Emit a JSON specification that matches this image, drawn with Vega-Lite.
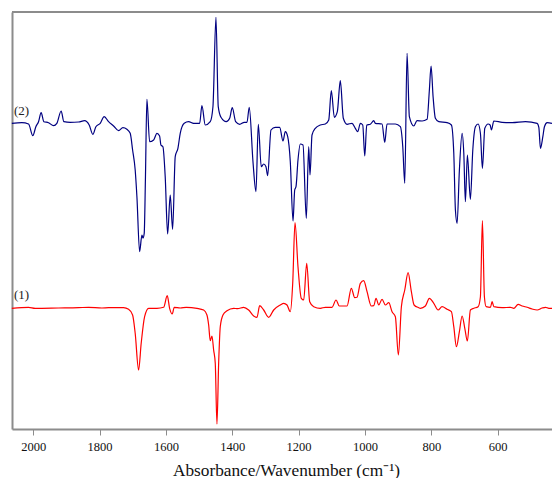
{
 "$schema": "https://vega.github.io/schema/vega-lite/v6.json",
 "width": 540, "height": 417,
 "autosize": {"type": "none"},
 "padding": {"left": 12, "top": 12, "right": 0, "bottom": 49},
 "background": "white",
 "config": {"view": {"stroke": null}},
 "datasets": {
  "spec": [
   {"s":"2","w":2064.5,"a":305.7},{"s":"2","w":2034.3,"a":306.3},{"s":"2","w":2014.1,"a":305},{"s":"2","w":2001.2,"a":293.3},{"s":"2","w":1992.1,"a":302.3},{"s":"2","w":1984,"a":307.3},{"s":"2","w":1976.1,"a":316.3},{"s":"2","w":1968,"a":307.3},{"s":"2","w":1953.8,"a":306.3},{"s":"2","w":1938.7,"a":303.3},{"s":"2","w":1928.8,"a":305.7},{"s":"2","w":1915.8,"a":318},{"s":"2","w":1907.6,"a":307.3},{"s":"2","w":1888.6,"a":306.7},{"s":"2","w":1863.3,"a":307},{"s":"2","w":1845.2,"a":308.3},{"s":"2","w":1831.3,"a":304},{"s":"2","w":1820.2,"a":294.7},{"s":"2","w":1811.1,"a":302.3},{"s":"2","w":1798.1,"a":305.7},{"s":"2","w":1786.1,"a":312.3},{"s":"2","w":1772.8,"a":307.3},{"s":"2","w":1757.7,"a":303},{"s":"2","w":1742.6,"a":298.3},{"s":"2","w":1729.7,"a":301.3},{"s":"2","w":1717.6,"a":299.7},{"s":"2","w":1707.6,"a":295.7},{"s":"2","w":1700.4,"a":279},{"s":"2","w":1692.6,"a":259},{"s":"2","w":1687.4,"a":232.3},{"s":"2","w":1679.3,"a":177.3},{"s":"2","w":1672.3,"a":194},{"s":"2","w":1669.3,"a":191},{"s":"2","w":1665.4,"a":195.7},{"s":"2","w":1661.8,"a":249},{"s":"2","w":1657.3,"a":329.7},{"s":"2","w":1649.1,"a":287.3},{"s":"2","w":1637,"a":289},{"s":"2","w":1627.1,"a":295.7},{"s":"2","w":1619,"a":293},{"s":"2","w":1615,"a":284},{"s":"2","w":1609,"a":282.3},{"s":"2","w":1602.1,"a":252.3},{"s":"2","w":1594.8,"a":195},{"s":"2","w":1587,"a":234},{"s":"2","w":1579.7,"a":199.7},{"s":"2","w":1571.9,"a":272.3},{"s":"2","w":1563.8,"a":280.7},{"s":"2","w":1556.8,"a":295.7},{"s":"2","w":1544.7,"a":305.7},{"s":"2","w":1531.5,"a":307.3},{"s":"2","w":1516.4,"a":305.7},{"s":"2","w":1498.3,"a":305.7},{"s":"2","w":1491.4,"a":323.3},{"s":"2","w":1481.4,"a":304},{"s":"2","w":1466.3,"a":307.3},{"s":"2","w":1458.2,"a":322.3},{"s":"2","w":1449.1,"a":411.7},{"s":"2","w":1442.2,"a":322.3},{"s":"2","w":1434,"a":311.7},{"s":"2","w":1418,"a":307.3},{"s":"2","w":1407.8,"a":310.7},{"s":"2","w":1399.9,"a":321.3},{"s":"2","w":1389.7,"a":307.3},{"s":"2","w":1377.6,"a":304.7},{"s":"2","w":1363.8,"a":306.7},{"s":"2","w":1355.6,"a":306.7},{"s":"2","w":1348.7,"a":321.7},{"s":"2","w":1337.5,"a":267.3},{"s":"2","w":1328.5,"a":237.3},{"s":"2","w":1321.5,"a":304.7},{"s":"2","w":1312.5,"a":262.3},{"s":"2","w":1305.2,"a":265},{"s":"2","w":1298.3,"a":262.3},{"s":"2","w":1293.2,"a":253.3},{"s":"2","w":1283.2,"a":299},{"s":"2","w":1270.2,"a":301.7},{"s":"2","w":1257,"a":301.7},{"s":"2","w":1247,"a":288},{"s":"2","w":1240.1,"a":297.3},{"s":"2","w":1232.8,"a":292.3},{"s":"2","w":1225,"a":267.3},{"s":"2","w":1216.8,"a":208},{"s":"2","w":1211.7,"a":239},{"s":"2","w":1207.8,"a":242.3},{"s":"2","w":1201.8,"a":269},{"s":"2","w":1194.8,"a":285},{"s":"2","w":1186.7,"a":284},{"s":"2","w":1176.7,"a":210.7},{"s":"2","w":1169.5,"a":282.3},{"s":"2","w":1165.6,"a":254},{"s":"2","w":1159.5,"a":294},{"s":"2","w":1149.6,"a":300.7},{"s":"2","w":1134.5,"a":304},{"s":"2","w":1119.4,"a":305},{"s":"2","w":1109.1,"a":309},{"s":"2","w":1101.3,"a":338.3},{"s":"2","w":1092.2,"a":311.7},{"s":"2","w":1083.2,"a":317.3},{"s":"2","w":1074.2,"a":348.3},{"s":"2","w":1065.1,"a":310.7},{"s":"2","w":1053.9,"a":304.7},{"s":"2","w":1038.9,"a":305.7},{"s":"2","w":1028.9,"a":300.7},{"s":"2","w":1021.7,"a":297.3},{"s":"2","w":1013.8,"a":305.7},{"s":"2","w":1006.6,"a":304},{"s":"2","w":1000.5,"a":273},{"s":"2","w":994.5,"a":304},{"s":"2","w":983.7,"a":304.7},{"s":"2","w":973.4,"a":308.3},{"s":"2","w":968.6,"a":305.7},{"s":"2","w":948.4,"a":305},{"s":"2","w":940.2,"a":286.7},{"s":"2","w":933.3,"a":305},{"s":"2","w":908.3,"a":305},{"s":"2","w":893.2,"a":302.3},{"s":"2","w":885.9,"a":282.3},{"s":"2","w":879.9,"a":245.7},{"s":"2","w":873,"a":375.7},{"s":"2","w":866,"a":312.3},{"s":"2","w":852.7,"a":303},{"s":"2","w":842.8,"a":308.3},{"s":"2","w":827.7,"a":308},{"s":"2","w":812.6,"a":309.7},{"s":"2","w":805.7,"a":339},{"s":"2","w":800.6,"a":363},{"s":"2","w":794.5,"a":332.3},{"s":"2","w":787.6,"a":310.7},{"s":"2","w":777.3,"a":307.3},{"s":"2","w":752.3,"a":306.3},{"s":"2","w":739.3,"a":304},{"s":"2","w":732.1,"a":275.7},{"s":"2","w":727.2,"a":219},{"s":"2","w":722.1,"a":205.7},{"s":"2","w":715.2,"a":259},{"s":"2","w":707,"a":295.7},{"s":"2","w":701.9,"a":275.7},{"s":"2","w":697.1,"a":227.3},{"s":"2","w":691.1,"a":274},{"s":"2","w":682,"a":229.7},{"s":"2","w":674.8,"a":279},{"s":"2","w":666.9,"a":302.3},{"s":"2","w":658.8,"a":305},{"s":"2","w":651.8,"a":295.7},{"s":"2","w":645.8,"a":260.7},{"s":"2","w":638.6,"a":300.7},{"s":"2","w":628.6,"a":305},{"s":"2","w":622.6,"a":304},{"s":"2","w":618.6,"a":299},{"s":"2","w":611.4,"a":308},{"s":"2","w":586.4,"a":306.7},{"s":"2","w":556.2,"a":306.3},{"s":"2","w":516.1,"a":307.3},{"s":"2","w":480.8,"a":305.7},{"s":"2","w":475.7,"a":301.7},{"s":"2","w":470.8,"a":280.7},{"s":"2","w":463.6,"a":292.3},{"s":"2","w":458.8,"a":302.3},{"s":"2","w":450.6,"a":306.3},{"s":"2","w":436,"a":305.7},
   {"s":"1","w":2064.5,"a":120.7},{"s":"1","w":2014.1,"a":121.7},{"s":"1","w":1994.2,"a":120.7},{"s":"1","w":1923.6,"a":121},{"s":"1","w":1863.3,"a":121.3},{"s":"1","w":1833.1,"a":121.7},{"s":"1","w":1793,"a":121},{"s":"1","w":1772.8,"a":121.3},{"s":"1","w":1727.6,"a":121.3},{"s":"1","w":1712.5,"a":119.7},{"s":"1","w":1700.4,"a":114},{"s":"1","w":1692.6,"a":95.7},{"s":"1","w":1682.3,"a":59},{"s":"1","w":1674.5,"a":85.7},{"s":"1","w":1664.2,"a":112.3},{"s":"1","w":1652.1,"a":120.7},{"s":"1","w":1647.3,"a":120.7},{"s":"1","w":1627.1,"a":120.7},{"s":"1","w":1606.9,"a":121.7},{"s":"1","w":1596,"a":133.3},{"s":"1","w":1588.8,"a":120.7},{"s":"1","w":1580.9,"a":115},{"s":"1","w":1574.9,"a":121.7},{"s":"1","w":1556.8,"a":121},{"s":"1","w":1538.7,"a":121.7},{"s":"1","w":1506.4,"a":120.7},{"s":"1","w":1486.2,"a":119},{"s":"1","w":1476.3,"a":114},{"s":"1","w":1471.1,"a":104},{"s":"1","w":1466.3,"a":88.3},{"s":"1","w":1461.2,"a":93},{"s":"1","w":1456.1,"a":79},{"s":"1","w":1451.2,"a":65.7},{"s":"1","w":1446.1,"a":5},{"s":"1","w":1441,"a":65.7},{"s":"1","w":1436.1,"a":102.3},{"s":"1","w":1428,"a":114},{"s":"1","w":1415.9,"a":118.3},{"s":"1","w":1395.7,"a":120.7},{"s":"1","w":1383.7,"a":120.3},{"s":"1","w":1365.6,"a":121.7},{"s":"1","w":1350.5,"a":119},{"s":"1","w":1335.4,"a":113},{"s":"1","w":1325.4,"a":111.7},{"s":"1","w":1317.3,"a":123.3},{"s":"1","w":1305.2,"a":119},{"s":"1","w":1290.1,"a":111.7},{"s":"1","w":1275.1,"a":119},{"s":"1","w":1255.2,"a":124},{"s":"1","w":1244.9,"a":125.7},{"s":"1","w":1234.9,"a":124},{"s":"1","w":1225,"a":117.3},{"s":"1","w":1217.7,"a":145.7},{"s":"1","w":1210.8,"a":206.3},{"s":"1","w":1201.8,"a":162.3},{"s":"1","w":1191.8,"a":130.7},{"s":"1","w":1184.6,"a":129},{"s":"1","w":1175.5,"a":165.7},{"s":"1","w":1166.5,"a":127.3},{"s":"1","w":1154.4,"a":122.3},{"s":"1","w":1134.5,"a":120.7},{"s":"1","w":1119.4,"a":121.7},{"s":"1","w":1099.2,"a":121.7},{"s":"1","w":1087.1,"a":129},{"s":"1","w":1077.2,"a":123},{"s":"1","w":1053.9,"a":123},{"s":"1","w":1041,"a":140.7},{"s":"1","w":1030.7,"a":131.3},{"s":"1","w":1023.8,"a":131.7},{"s":"1","w":1013.8,"a":145.7},{"s":"1","w":1003.6,"a":148.3},{"s":"1","w":993.6,"a":137.3},{"s":"1","w":980.6,"a":123},{"s":"1","w":973.4,"a":123.3},{"s":"1","w":966.5,"a":130.7},{"s":"1","w":958.3,"a":124},{"s":"1","w":948.4,"a":129.7},{"s":"1","w":938.4,"a":124},{"s":"1","w":928.2,"a":126.3},{"s":"1","w":918.2,"a":117.3},{"s":"1","w":908.2,"a":112.3},{"s":"1","w":899.2,"a":74},{"s":"1","w":890.1,"a":122.3},{"s":"1","w":879.9,"a":139},{"s":"1","w":869.9,"a":156.3},{"s":"1","w":860,"a":137.3},{"s":"1","w":851.8,"a":124},{"s":"1","w":837.6,"a":121.3},{"s":"1","w":832.8,"a":120.7},{"s":"1","w":817.7,"a":123},{"s":"1","w":805.7,"a":130.7},{"s":"1","w":792.4,"a":125.7},{"s":"1","w":779.4,"a":119},{"s":"1","w":767.4,"a":122.3},{"s":"1","w":752.3,"a":119.7},{"s":"1","w":739.3,"a":117.3},{"s":"1","w":732.1,"a":102.3},{"s":"1","w":724.2,"a":82.3},{"s":"1","w":715.2,"a":97.3},{"s":"1","w":707,"a":113},{"s":"1","w":698.9,"a":100.7},{"s":"1","w":691.1,"a":88},{"s":"1","w":682,"a":119},{"s":"1","w":671.7,"a":120.7},{"s":"1","w":658.8,"a":122.3},{"s":"1","w":651.8,"a":132.3},{"s":"1","w":645.8,"a":208.3},{"s":"1","w":639.8,"a":132.3},{"s":"1","w":634.6,"a":122.3},{"s":"1","w":621.7,"a":121.7},{"s":"1","w":616.5,"a":127.3},{"s":"1","w":611.4,"a":122.3},{"s":"1","w":586.4,"a":121.3},{"s":"1","w":561.3,"a":121.7},{"s":"1","w":551.1,"a":120.7},{"s":"1","w":538.1,"a":124.7},{"s":"1","w":526,"a":123},{"s":"1","w":511,"a":121.7},{"s":"1","w":495.9,"a":120},{"s":"1","w":480.8,"a":119},{"s":"1","w":465.7,"a":121},{"s":"1","w":455.8,"a":121.7},{"s":"1","w":445.5,"a":120.7},{"s":"1","w":436,"a":120.7}
  ],
  "labels": [
   {"w": 2058, "a": 314, "t": "(2)"},
   {"w": 2058, "a": 130.5, "t": "(1)"}
  ]
 },
 "layer": [
  {
   "data": {"name": "spec"},
   "mark": {"type": "line", "strokeWidth": 1.2, "interpolate": "monotone"},
   "encoding": {
    "x": {"field": "w", "type": "quantitative",
     "scale": {"domain": [436, 2064], "reverse": true, "nice": false, "zero": false},
     "axis": {"values": [2000, 1800, 1600, 1400, 1200, 1000, 800, 600], "format": "d", "grid": false,
      "labelFont": "Liberation Serif", "labelFontSize": 12.5, "labelColor": "#111", "labelPadding": 5,
      "tickColor": "#8c8c8c", "tickSize": 6, "tickWidth": 1,
      "domainColor": "#8c8c8c", "domainWidth": 2,
      "title": "Absorbance/Wavenumber (cm⁻¹)", "titleFont": "Liberation Serif", "titleFontSize": 17.3,
      "titleFontWeight": "normal", "titleColor": "#111", "titleX": 274, "titleY": 46, "titleBaseline": "alphabetic"}},
    "y": {"field": "a", "type": "quantitative",
     "scale": {"domain": [0, 417], "nice": false, "zero": false},
     "axis": {"labels": false, "ticks": false, "grid": false, "title": null, "domainColor": "#8c8c8c", "domainWidth": 2}},
    "color": {"field": "s", "type": "nominal", "scale": {"domain": ["1", "2"], "range": ["#ff0000", "#000080"]}, "legend": null}
   }
  },
  {
   "data": {"name": "labels"},
   "mark": {"type": "text", "align": "left", "baseline": "alphabetic", "font": "Liberation Serif", "fontSize": 13, "color": "#222"},
   "encoding": {
    "x": {"field": "w", "type": "quantitative"},
    "y": {"field": "a", "type": "quantitative"},
    "text": {"field": "t"}
   }
  },
  {
   "data": {"values": [{}]},
   "mark": {"type": "rule", "color": "#8c8c8c", "strokeWidth": 2},
   "encoding": {"y": {"datum": 417}}
  }
 ]
}
